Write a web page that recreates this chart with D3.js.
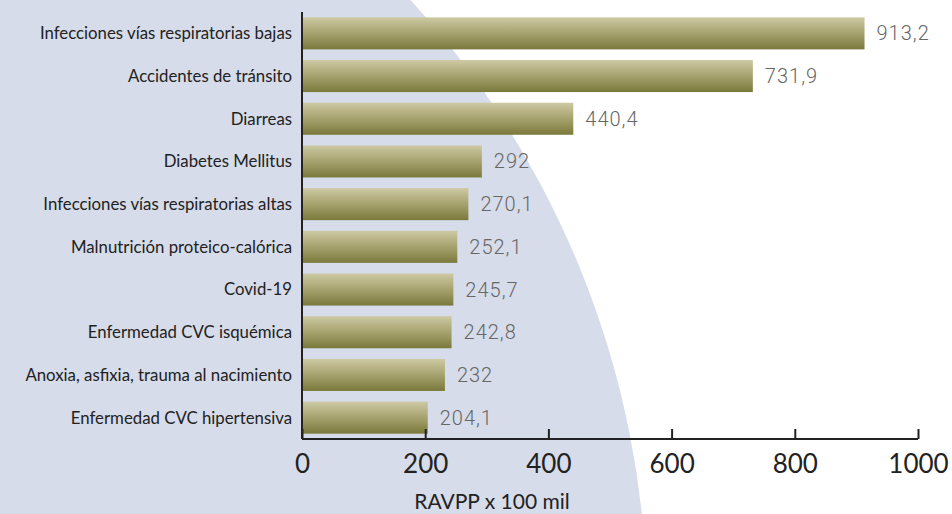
<!DOCTYPE html>
<html>
<head>
<meta charset="utf-8">
<script src="https://cdn.jsdelivr.net/npm/d3@7"></script>
<style>
  body { margin: 0; background: #fff; }
  svg { display: block; }
</style>
</head>
<body>
<svg id="chart" width="952" height="514"></svg>
<script>
// Data
const categories = [
    'Infecciones vías respiratorias bajas',
    'Accidentes de tránsito',
    'Diarreas',
    'Diabetes Mellitus',
    'Infecciones vías respiratorias altas',
    'Malnutrición proteico-calórica',
    'Covid-19',
    'Enfermedad CVC isquémica',
    'Anoxia, asfixia, trauma al nacimiento',
    'Enfermedad CVC hipertensiva'
]
const values = [913.2, 731.9, 440.4, 292, 270.1, 252.1, 245.7, 242.8, 232, 204.1]
const xTicks = [0, 200, 400, 600, 800, 1000]
const axisTitle = 'RAVPP x 100 mil'

const svg = d3.select('#chart')
const width = +svg.attr('width')
const height = +svg.attr('height')
const margin = { top: 12, right: 34, bottom: 75, left: 302 }

// Background shape
svg.append('rect').attr('width', width).attr('height', height).attr('fill', '#fff')
const defs = svg.append('defs')
defs.append('clipPath').attr('id', 'page')
    .append('rect').attr('width', width).attr('height', height)
svg.append('circle')
    .attr('clip-path', 'url(#page)')
    .attr('cx', -258)
    .attr('cy', 610)
    .attr('r', 905)
    .attr('fill', '#d6dce9')

// Gradient
const grad = defs.append('linearGradient')
    .attr('id', 'bar-grad')
    .attr('x1', 0).attr('y1', 0).attr('x2', 0).attr('y2', 1)
grad.append('stop').attr('offset', '0%').attr('stop-color', '#cdc9a3')
grad.append('stop').attr('offset', '50%').attr('stop-color', '#a6a26e')
grad.append('stop').attr('offset', '100%').attr('stop-color', '#7a793b')

// Scales
const x = d3.scaleLinear()
    .domain([0, 1000])
    .range([margin.left, width - margin.right])
const y = d3.scaleBand()
    .domain(categories)
    .range([margin.top, height - margin.bottom])
    .paddingInner(0.25)
    .paddingOuter(0.125)

const axisY = height - margin.bottom
const fmt = v => String(v).replace('.', ',')

// Bars
svg.append('g').selectAll('rect')
    .data(categories)
    .join('rect')
    .attr('x', x(0))
    .attr('y', d => y(d))
    .attr('width', (d, i) => x(values[i]) - x(0))
    .attr('height', y.bandwidth())
    .attr('fill', 'url(#bar-grad)')

// Value labels
svg.append('g').selectAll('text')
    .data(categories)
    .join('text')
    .attr('x', (d, i) => x(values[i]) + 12)
    .attr('y', d => y(d) + y.bandwidth() / 2)
    .attr('dy', '0.35em')
    .style('font-family', 'Roboto, sans-serif')
    .style('font-weight', 300)
    .style('font-size', '20px')
    .style('letter-spacing', '1px')
    .style('fill', '#666')
    .text((d, i) => fmt(values[i]))

// Category labels
svg.append('g').selectAll('text')
    .data(categories)
    .join('text')
    .attr('x', margin.left - 10)
    .attr('y', d => y(d) + y.bandwidth() / 2)
    .attr('dy', '0.35em')
    .attr('text-anchor', 'end')
    .style('font-family', 'Lato, sans-serif')
    .style('font-size', '16.8px')
    .style('fill', '#222')
    .text(d => d)

// Y axis line
svg.append('line')
    .attr('x1', x(0)).attr('x2', x(0))
    .attr('y1', margin.top).attr('y2', axisY)
    .attr('stroke', '#222').attr('stroke-width', 2)

// X axis
const xAxis = d3.axisBottom(x)
    .tickValues(xTicks)
    .tickSize(-10)
    .tickPadding(16)
    .tickFormat(d3.format('d'))
const gx = svg.append('g')
    .attr('transform', `translate(0, ${axisY})`)
    .call(xAxis)
gx.select('.domain').attr('stroke', '#222').attr('stroke-width', 2)
    .attr('d', `M${x(0)},0H${x(1000)}`)
gx.selectAll('.tick line').attr('stroke', '#222').attr('stroke-width', 2)
gx.selectAll('.tick text')
    .style('font-family', 'Lato, sans-serif')
    .style('font-size', '26px')
    .style('fill', '#222')

svg.append('text')
    .attr('x', 492)
    .attr('y', 509)
    .attr('text-anchor', 'middle')
    .style('font-family', 'Lato, sans-serif')
    .style('font-size', '21px')
    .style('fill', '#222')
    .text(axisTitle)
</script>
</body>
</html>
